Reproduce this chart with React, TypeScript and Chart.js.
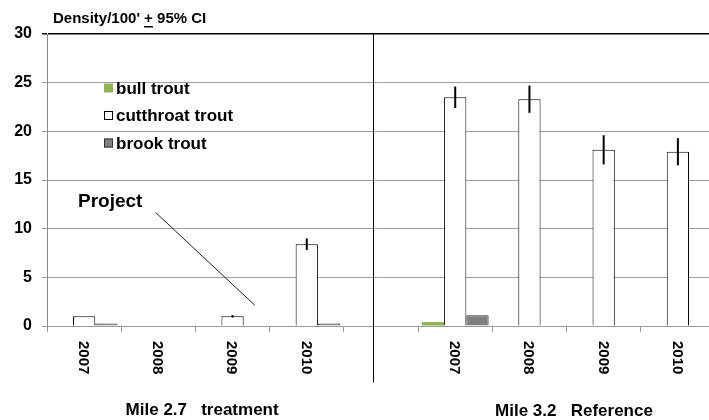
import React, { useEffect, useRef } from 'react';
import { Chart, registerables } from 'chart.js';

Chart.register(...registerables);

const categories = ['2007', '2008', '2009', '2010', '', '2007', '2008', '2009', '2010'];
const seriesNames = ['bull trout', 'cutthroat trout', 'brook trout'];
const bullTrout = [0, null, 0, 0, null, 0.4, 0, 0, 0];
const cutthroatTrout = [1.0, null, 1.0, 8.4, null, 23.5, 23.3, 18.1, 17.9];
const brookTrout = [0.25, null, 0, 0.25, null, 1.1, 0, 0, 0];
const cutthroatCI = [0, null, 0.12, 0.6, null, 1.1, 1.4, 1.5, 1.4];
const yTicks = [0, 5, 10, 15, 20, 25, 30];
const groupTitles = ['Mile 2.7   treatment', 'Mile 3.2   Reference'];
const titleParts = ["Density/100' ", '+', ' 95% CI'];
const annotationText = 'Project';

const FONT = 'Arial, "Liberation Sans", sans-serif';

const overlayPlugin = {
  id: 'overlay',
  afterDatasetsDraw(chart: any) {
    const ctx = chart.ctx;
    const x = chart.scales.x;
    const y = chart.scales.y;
    const area = chart.chartArea;
    ctx.save();

    // error bars on cutthroat trout
    const meta = chart.getDatasetMeta(1);
    ctx.strokeStyle = '#000';
    ctx.lineWidth = 2;
    cutthroatTrout.forEach((v, i) => {
      const ci = cutthroatCI[i];
      if (v == null || !ci) return;
      const el = meta.data[i];
      ctx.beginPath();
      ctx.moveTo(el.x, y.getPixelForValue(v + ci));
      ctx.lineTo(el.x, y.getPixelForValue(v - ci));
      ctx.stroke();
    });

    // divider line between reaches
    ctx.lineWidth = 1;
    ctx.strokeStyle = '#000';
    const dx = Math.round(x.getPixelForValue(3.89)) + 0.5;
    ctx.beginPath();
    ctx.moveTo(dx, area.top);
    ctx.lineTo(dx, y.getPixelForValue(-5.8));
    ctx.stroke();

    // Project annotation
    ctx.strokeStyle = '#222';
    ctx.beginPath();
    ctx.moveTo(x.getPixelForValue(0.965), y.getPixelForValue(11.65));
    ctx.lineTo(x.getPixelForValue(2.3), y.getPixelForValue(2.13));
    ctx.stroke();
    ctx.fillStyle = '#000';
    ctx.font = `bold 19px ${FONT}`;
    ctx.textAlign = 'left';
    ctx.textBaseline = 'middle';
    ctx.fillText(annotationText, x.getPixelForValue(-0.082), y.getPixelForValue(12.74));

    // rotated category labels (reading downward)
    ctx.font = `bold 15px ${FONT}`;
    categories.forEach((c, i) => {
      if (!c) return;
      ctx.save();
      ctx.translate(x.getPixelForValue(i) - 1, area.bottom + 15);
      ctx.rotate(Math.PI / 2);
      ctx.textAlign = 'left';
      ctx.textBaseline = 'middle';
      ctx.fillText(c, 0, 0);
      ctx.restore();
    });

    // group titles
    ctx.font = `bold 17px ${FONT}`;
    ctx.textAlign = 'center';
    ctx.textBaseline = 'middle';
    ctx.fillText(groupTitles[0], x.getPixelForValue(1.59), 410);
    ctx.fillText(groupTitles[1], x.getPixelForValue(6.6), 411);

    // axis title with underlined plus
    ctx.font = `bold 15px ${FONT}`;
    ctx.textAlign = 'left';
    let tx = 53;
    const ty = 19;
    titleParts.forEach((p, k) => {
      ctx.fillText(p, tx, ty);
      const w = ctx.measureText(p).width;
      if (k === 1) {
        ctx.fillRect(tx, ty + 7, w, 1.5);
      }
      tx += w;
    });

    // legend
    ctx.font = `bold 17px ${FONT}`;
    const ly = [88, 115.5, 143];
    chart.data.datasets.forEach((ds: any, k: number) => {
      const cy = ly[k];
      ctx.fillStyle = ds.backgroundColor;
      ctx.fillRect(104, cy - 4.5, 9, 9);
      if (k > 0) {
        ctx.strokeStyle = ds.borderColor;
        ctx.lineWidth = 1;
        ctx.strokeRect(104.5, cy - 4, 8, 8);
      }
      ctx.fillStyle = '#000';
      ctx.textAlign = 'left';
      ctx.textBaseline = 'middle';
      ctx.fillText(ds.label, 116, cy + 1);
    });

    ctx.restore();
  },
};

export default function App() {
  const ref = useRef<HTMLCanvasElement>(null);
  useEffect(() => {
    if (!ref.current) return;
    const chart = new Chart(ref.current, {
      type: 'bar',
      data: {
        labels: categories,
        datasets: [
          {
            label: seriesNames[0],
            data: bullTrout,
            backgroundColor: '#8fb253',
            borderColor: '#8fb253',
            borderWidth: 0,
          },
          {
            label: seriesNames[1],
            data: cutthroatTrout,
            backgroundColor: '#ffffff',
            borderColor: '#000000',
            borderWidth: 1,
          },
          {
            label: seriesNames[2],
            data: brookTrout,
            backgroundColor: '#7f7f7f',
            borderColor: '#333333',
            borderWidth: 1,
          },
        ] as any,
      },
      options: {
        responsive: false,
        animation: false,
        devicePixelRatio: 1,
        layout: { padding: { top: 34, right: 1, left: 0, bottom: 0 } },
        datasets: {
          bar: { categoryPercentage: 0.9, barPercentage: 1.0 },
        },
        plugins: {
          legend: { display: false },
          tooltip: { enabled: false },
          title: { display: false },
        },
        scales: {
          x: {
            grid: {
              display: true,
              drawOnChartArea: false,
              drawTicks: true,
              tickLength: 6,
              color: '#9a9a9a',
              offset: true,
            },
            border: { display: true, color: '#9a9a9a' },
            ticks: { display: false },
            afterFit: (s: any) => {
              s.height = 94;
            },
          },
          y: {
            min: 0,
            max: 30,
            afterBuildTicks: (s: any) => {
              s.ticks = yTicks.map((v) => ({ value: v }));
            },
            grid: {
              color: (c: any) => (c.tick && c.tick.value === 30 ? '#000000' : '#a0a0a0'),
              lineWidth: (c: any) => (c.tick && c.tick.value === 30 ? 1.5 : 1),
              tickLength: 5,
            },
            border: { display: true, color: '#8c8c8c' },
            ticks: {
              padding: 10,
              color: '#000',
              font: { family: FONT, size: 16, weight: 'bold' },
            },
            afterFit: (s: any) => {
              s.width = 47;
            },
          },
        },
      } as any,
      plugins: [overlayPlugin],
    });
    return () => chart.destroy();
  }, []);

  return (
    <div
      style={{
        position: 'absolute',
        left: 0,
        top: 0,
        width: 709,
        height: 420,
        overflow: 'hidden',
        background: '#fff',
      }}
    >
      <canvas ref={ref} width={716} height={420} style={{ width: 716, height: 420, display: 'block' }} />
    </div>
  );
}
